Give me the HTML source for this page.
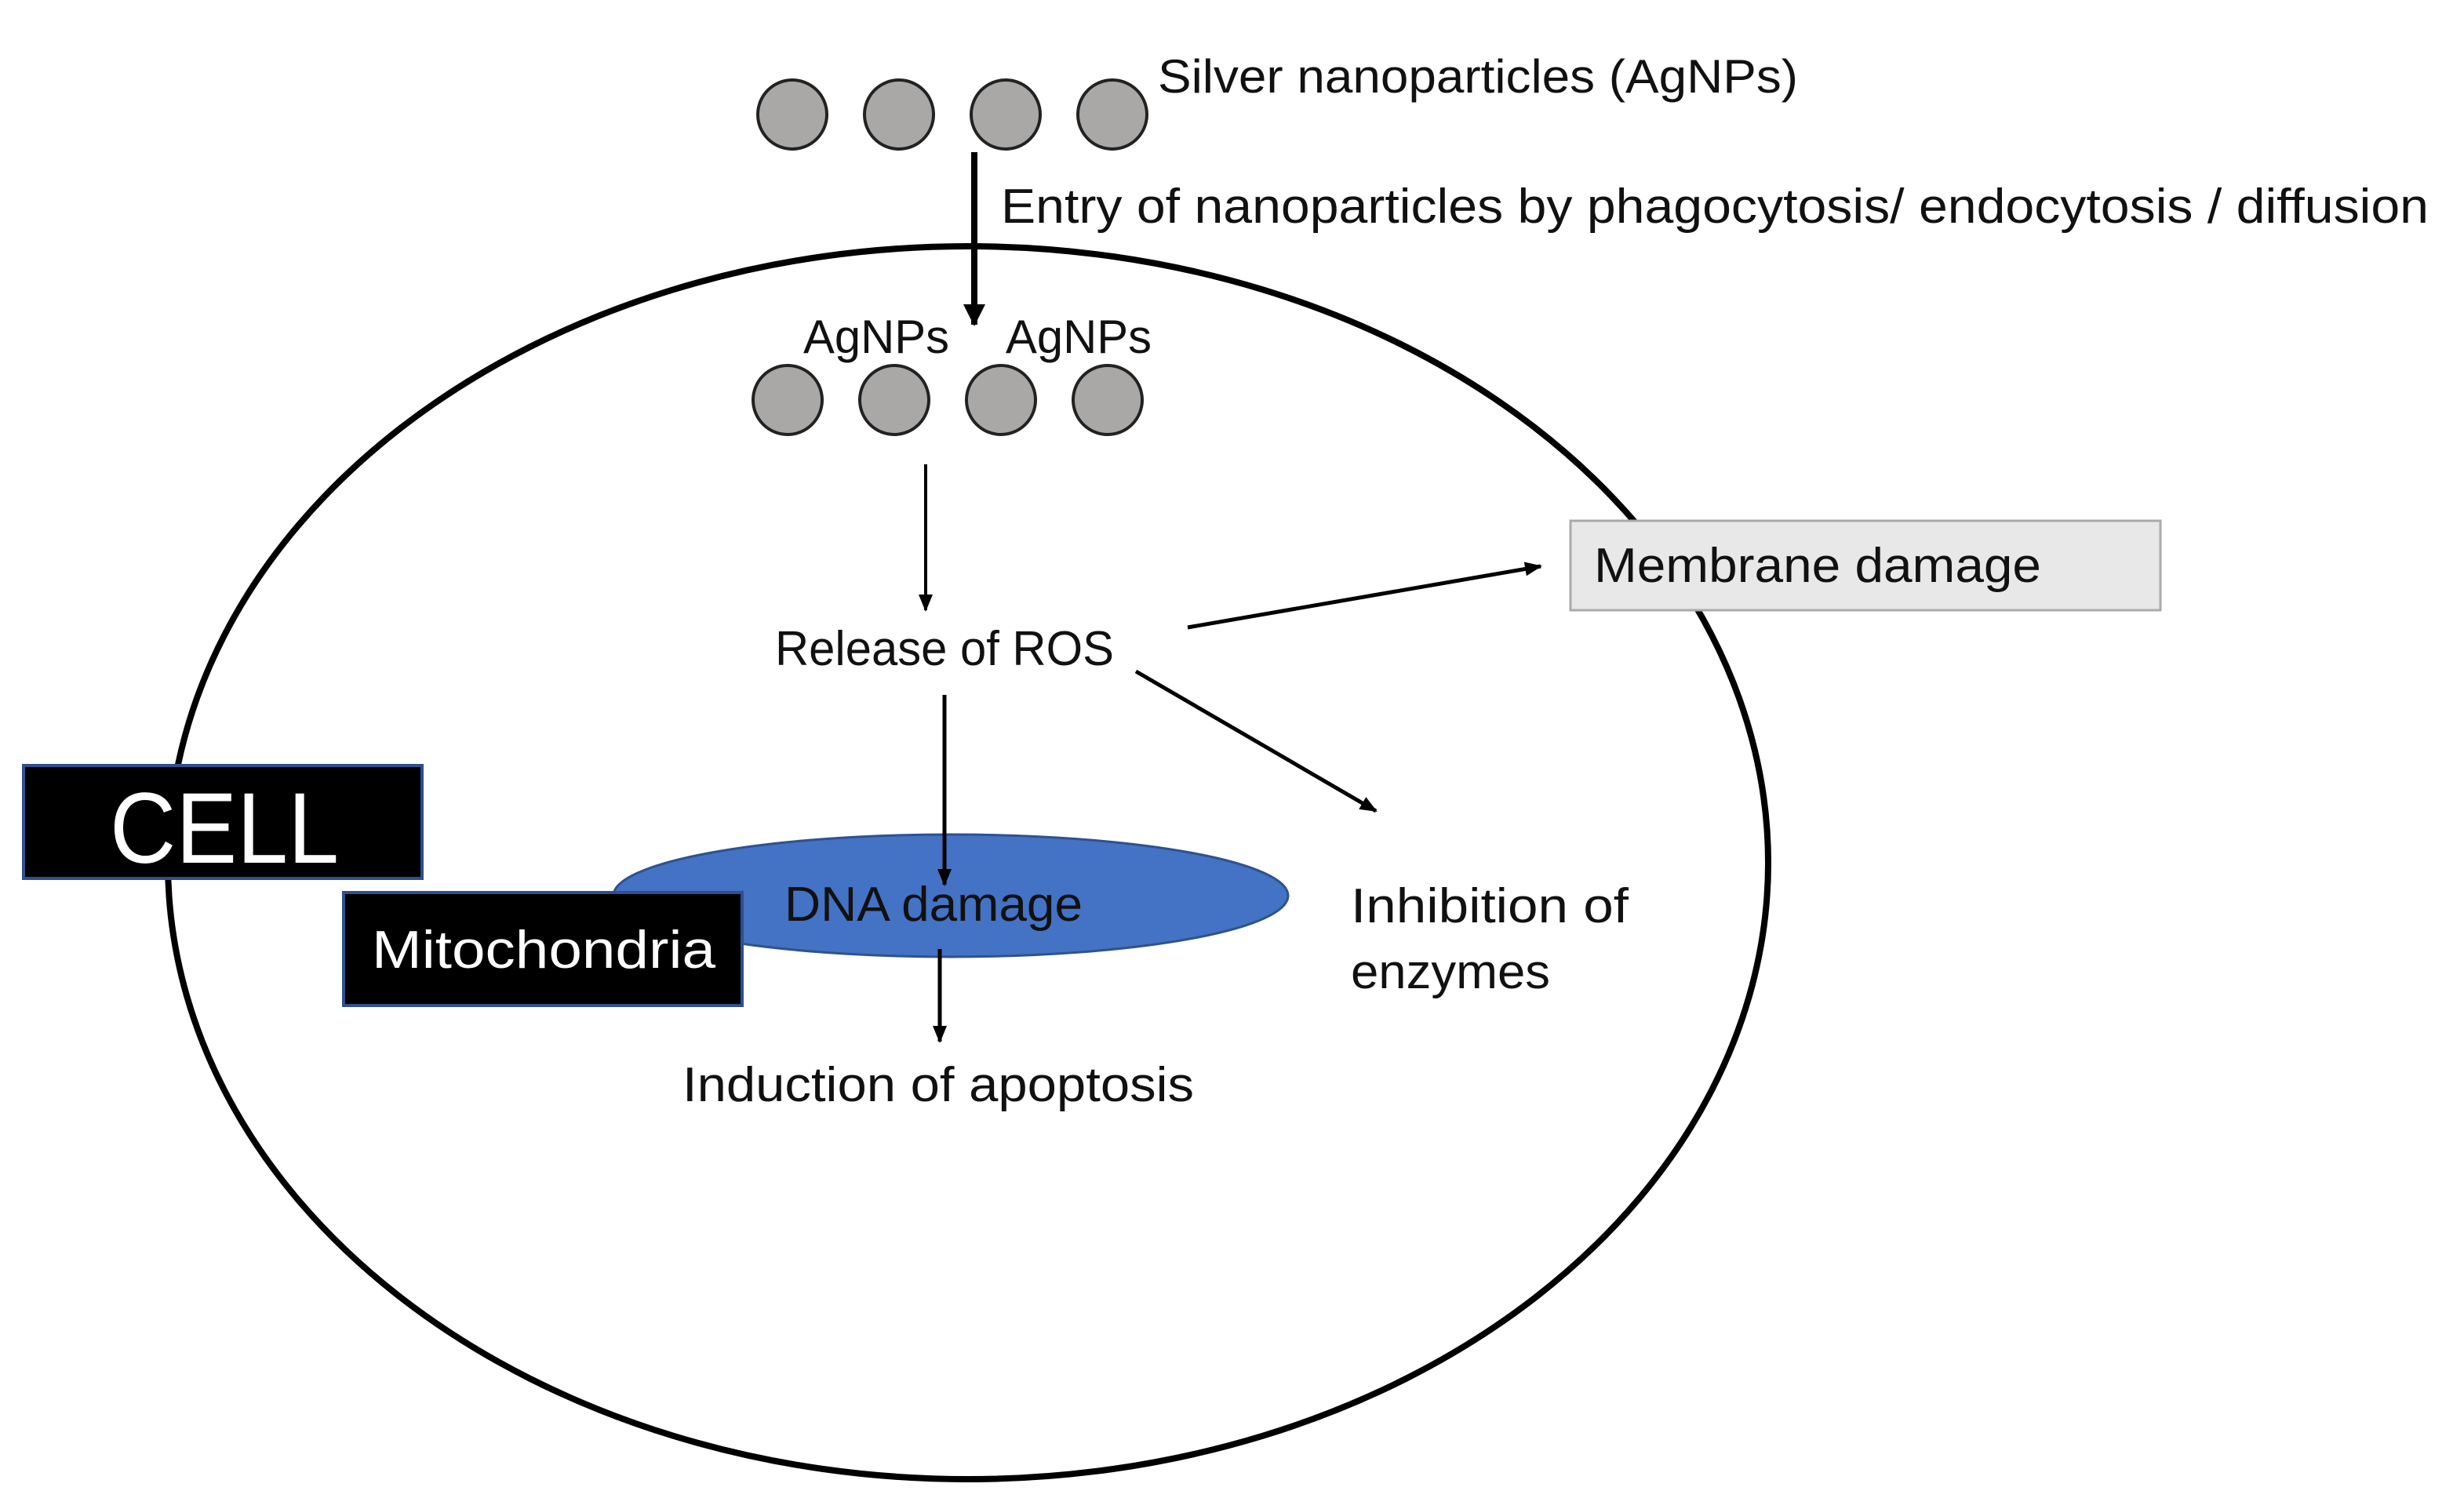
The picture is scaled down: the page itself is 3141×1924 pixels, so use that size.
<!DOCTYPE html>
<html><head><meta charset="utf-8"><style>
html,body{margin:0;padding:0;background:#fff;width:3141px;height:1924px;overflow:hidden}
svg{display:block}
text{font-family:"Liberation Sans",sans-serif;fill:#111}
</style></head><body>
<svg width="3141" height="1924" viewBox="0 0 1570.5 962" xmlns="http://www.w3.org/2000/svg">
<defs>
<marker id="a" markerWidth="12" markerHeight="12" refX="10" refY="6" orient="auto" markerUnits="userSpaceOnUse"><path d="M0,1.5 L11,6 L0,10.5 Z" fill="#000"/></marker>
<marker id="b" markerWidth="16" markerHeight="16" refX="13" refY="8" orient="auto" markerUnits="userSpaceOnUse"><path d="M0,1 L14,8 L0,15 Z" fill="#000"/></marker>
</defs>
<rect width="1570.5" height="962" fill="#fff"/>
<ellipse cx="617" cy="550" rx="510" ry="393" fill="none" stroke="#000" stroke-width="4"/>
<g fill="#aaa7a7" stroke="#222" stroke-width="2">
<circle cx="505" cy="73" r="22"/><circle cx="573" cy="73" r="22"/><circle cx="641" cy="73" r="22"/><circle cx="709" cy="73" r="22"/>
<circle cx="502" cy="255" r="22"/><circle cx="570" cy="255" r="22"/><circle cx="638" cy="255" r="22"/><circle cx="706" cy="255" r="22"/>
</g>
<text x="738" y="59" font-size="30" textLength="408" lengthAdjust="spacingAndGlyphs">Silver nanoparticles (AgNPs)</text>
<line x1="621" y1="97" x2="621" y2="207" stroke="#000" stroke-width="4" marker-end="url(#b)"/>
<text x="638" y="142" font-size="31" textLength="910" lengthAdjust="spacingAndGlyphs">Entry of nanoparticles by phagocytosis/ endocytosis / diffusion</text>
<text x="512" y="225" font-size="30" textLength="93" lengthAdjust="spacingAndGlyphs">AgNPs</text>
<text x="641" y="225" font-size="30" textLength="93" lengthAdjust="spacingAndGlyphs">AgNPs</text>
<line x1="590" y1="296" x2="590" y2="389" stroke="#000" stroke-width="2" marker-end="url(#a)"/>
<text x="494" y="424" font-size="31" textLength="216" lengthAdjust="spacingAndGlyphs">Release of ROS</text>
<line x1="757" y1="400" x2="982" y2="361" stroke="#000" stroke-width="2.5" marker-end="url(#a)"/>
<rect x="1001" y="332" width="376" height="57" fill="#e8e8e8" stroke="#aaa" stroke-width="1.5"/>
<text x="1016" y="371" font-size="31" textLength="285" lengthAdjust="spacingAndGlyphs">Membrane damage</text>
<line x1="724" y1="428" x2="877" y2="517" stroke="#000" stroke-width="2.5" marker-end="url(#a)"/>
<ellipse cx="606" cy="571" rx="215" ry="39" fill="#4472c4" stroke="#2f528f" stroke-width="1.5"/>
<line x1="602" y1="443" x2="602" y2="564" stroke="#000" stroke-width="2.5" marker-end="url(#a)"/>
<text x="500" y="587" font-size="31" textLength="190" lengthAdjust="spacingAndGlyphs">DNA damage</text>
<line x1="599" y1="605" x2="599" y2="664" stroke="#000" stroke-width="2.5" marker-end="url(#a)"/>
<text x="435" y="702" font-size="31" textLength="326" lengthAdjust="spacingAndGlyphs">Induction of apoptosis</text>
<text x="861" y="588" font-size="31" textLength="177" lengthAdjust="spacingAndGlyphs">Inhibition of</text>
<text x="861" y="630" font-size="31" textLength="127" lengthAdjust="spacingAndGlyphs">enzymes</text>
<rect x="15" y="488" width="254" height="72" fill="#000" stroke="#2f4f8f" stroke-width="2"/>
<text x="70" y="550" font-size="64" style="fill:#fff" textLength="146" lengthAdjust="spacingAndGlyphs">CELL</text>
<rect x="219" y="569" width="254" height="72" fill="#000" stroke="#2f4f8f" stroke-width="2"/>
<text x="237" y="617" font-size="34" style="fill:#fff" textLength="219" lengthAdjust="spacingAndGlyphs">Mitochondria</text>
</svg>
</body></html>
